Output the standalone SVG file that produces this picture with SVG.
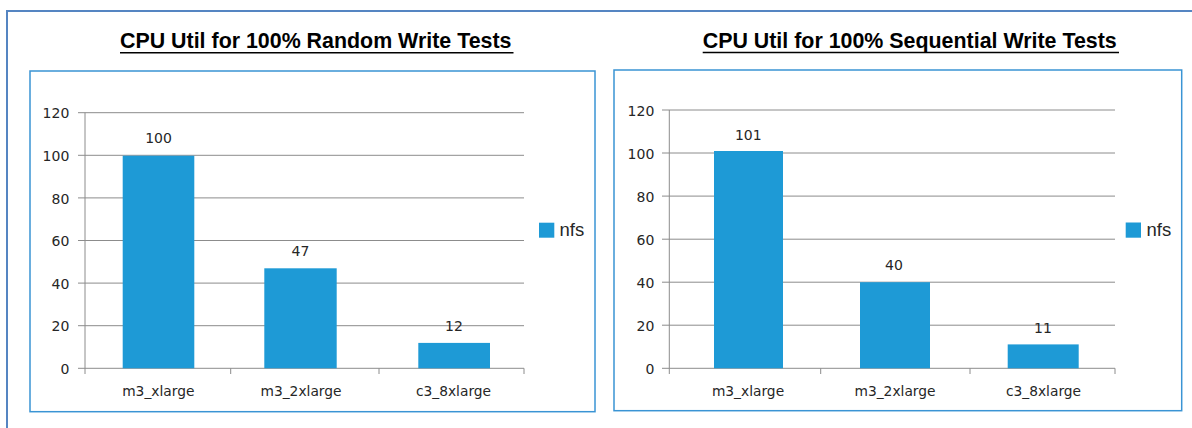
<svg xmlns="http://www.w3.org/2000/svg" width="1192" height="428" viewBox="0 0 1192 428">
<style>
.frame{fill:none;stroke:#5585c2;stroke-width:2}
.box{fill:#ffffff;stroke:#3a94d4;stroke-width:1.5}
.grid{stroke:#8c8c8c;stroke-width:1;fill:none}
.bar{fill:#1e9ad6}
.title{font-family:"Liberation Sans",Arial,sans-serif;font-weight:bold;font-size:21.4px;fill:#000}
.ul{stroke:#000;stroke-width:1.5}
.ax{font-family:"DejaVu Sans",Verdana,sans-serif;font-size:14px;fill:#262626;text-anchor:end}
.val{font-family:"DejaVu Sans",Verdana,sans-serif;font-size:14px;fill:#262626;text-anchor:middle}
.cat{font-family:"DejaVu Sans",Verdana,sans-serif;font-size:13.8px;fill:#262626;text-anchor:middle}
.leg{font-family:"Liberation Sans",Arial,sans-serif;font-size:18.5px;fill:#262626}
</style>
<rect x="0" y="0" width="1192" height="428" fill="#ffffff"/>
<rect class="frame" x="7" y="11" width="1200" height="430"/>

<g id="chart-random">
  <text class="title" x="120" y="48.3">CPU Util for 100% Random Write Tests</text>
  <line class="ul" x1="120" y1="52.7" x2="513.5" y2="52.7"/>
  <rect class="box" x="30" y="71" width="565" height="340.7"/>
  <g class="grid">
    <path d="M78 112.7H524M78 155.3H524M78 197.9H524M78 240.5H524M78 283.1H524M78 325.7H524M78 368.3H524"/>
    <path d="M85 112.7V368.3"/>
    <path d="M85 368.3V374M230.7 368.3V374M379 368.3V374M524 368.3V374"/>
  </g>
  <rect class="bar" x="122.7" y="155.7" width="71.6" height="212.6"/>
  <rect class="bar" x="264.3" y="268.3" width="72.4" height="100"/>
  <rect class="bar" x="418.3" y="342.9" width="71.7" height="25.4"/>
  <g>
    <text class="ax" x="69.3" y="118.3">120</text>
    <text class="ax" x="69.3" y="160.9">100</text>
    <text class="ax" x="69.3" y="203.5">80</text>
    <text class="ax" x="69.3" y="246.1">60</text>
    <text class="ax" x="69.3" y="288.7">40</text>
    <text class="ax" x="69.3" y="331.3">20</text>
    <text class="ax" x="69.3" y="373.9">0</text>
  </g>
  <text class="val" x="158.5" y="143.3">100</text>
  <text class="val" x="300.5" y="256">47</text>
  <text class="val" x="454" y="331">12</text>
  <text class="cat" x="158.3" y="395.5">m3_xlarge</text>
  <text class="cat" x="301" y="395.5">m3_2xlarge</text>
  <text class="cat" x="453.5" y="395.5">c3_8xlarge</text>
  <rect class="bar" x="539" y="222.7" width="15.3" height="15"/>
  <text class="leg" x="559.5" y="236">nfs</text>
</g>

<g id="chart-sequential">
  <text class="title" x="702.7" y="48.3">CPU Util for 100% Sequential Write Tests</text>
  <line class="ul" x1="702.7" y1="52.5" x2="1119" y2="52.5"/>
  <rect class="box" x="614" y="70" width="567.7" height="340.7"/>
  <g class="grid">
    <path d="M662 110H1115M662 153H1115M662 196.1H1115M662 239.2H1115M662 282.2H1115M662 325.2H1115M662 368.3H1115"/>
    <path d="M669.3 110V368.3"/>
    <path d="M669.3 368.3V374M820.7 368.3V374M970 368.3V374M1115 368.3V374"/>
  </g>
  <rect class="bar" x="714" y="151" width="69" height="217.3"/>
  <rect class="bar" x="860" y="282.2" width="70" height="86.1"/>
  <rect class="bar" x="1007.7" y="344.4" width="71" height="23.9"/>
  <g>
    <text class="ax" x="654.3" y="115.6">120</text>
    <text class="ax" x="654.3" y="158.6">100</text>
    <text class="ax" x="654.3" y="201.7">80</text>
    <text class="ax" x="654.3" y="244.8">60</text>
    <text class="ax" x="654.3" y="287.8">40</text>
    <text class="ax" x="654.3" y="330.8">20</text>
    <text class="ax" x="654.3" y="373.9">0</text>
  </g>
  <text class="val" x="748.3" y="139.5">101</text>
  <text class="val" x="894" y="269.5">40</text>
  <text class="val" x="1043" y="332.7">11</text>
  <text class="cat" x="748" y="395.7">m3_xlarge</text>
  <text class="cat" x="895" y="395.7">m3_2xlarge</text>
  <text class="cat" x="1043.5" y="395.7">c3_8xlarge</text>
  <rect class="bar" x="1125.7" y="222.5" width="15.3" height="15.2"/>
  <text class="leg" x="1146.5" y="236">nfs</text>
</g>
</svg>
